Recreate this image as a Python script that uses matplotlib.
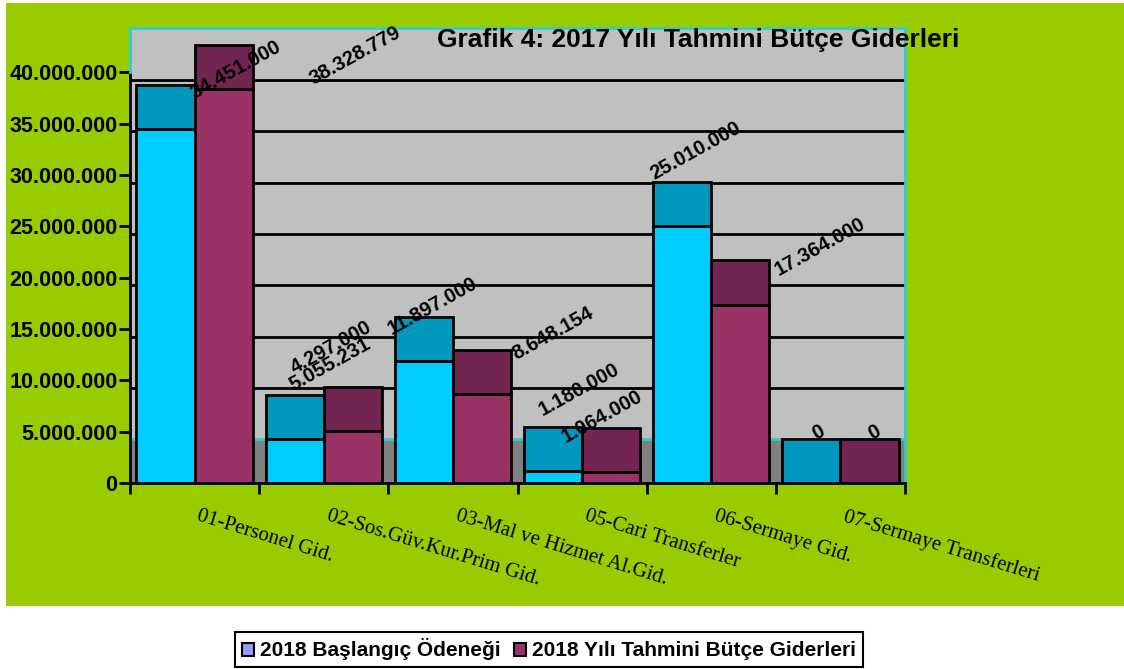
import matplotlib.pyplot as plt
from matplotlib.patches import Rectangle, Patch
import numpy as np

# chart data
categories = ["01-Personel Gid.", "02-Sos.Güv.Kur.Prim Gid.", "03-Mal ve Hizmet Al.Gid.",
              "05-Cari Transferler", "06-Sermaye Gid.", "07-Sermaye Transferleri"]
baslangic = [34451000, 4297000, 11897000, 1180000, 25010000, 0]
tahmini = [38328779, 5055231, 8648154, 1064000, 17364000, 0]
series_names = ["2018 Başlangıç Ödeneği", "2018 Yılı Tahmini Bütçe Giderleri"]
chart_title = "Grafik 4: 2017 Yılı Tahmini Bütçe Giderleri"
y_ticks = [0, 5000000, 10000000, 15000000, 20000000, 25000000, 30000000, 35000000, 40000000]

# fake 3D look of the old excel chart
DEPTH = 4.3e6        # height of the visible bar tops / floor
GRID_SHIFT = 0.75e6  # back wall gridlines sit a bit lower than the ticks
W = 0.45

# where excel dropped the rotated data labels (pixels from the bar top)
offs_b = [(70, 15), (37, 47), (9, 11), (26, 37), (13, 31), (7, 6)]
offs_t = [(131, -10), (-23, 22), (71, 17), (-9, 11), (80, 14), (5, 6)]

FRONT = ["#00CCFF", "#993366"]
TOP = ["#0098BC", "#722550"]
LEGEND_COLORS = ["#9999FF", "#993366"]
CYAN = "#33CCCC"


def fmt(v):
    return "{:,}".format(int(v)).replace(",", ".")


fig = plt.figure(figsize=(11.24, 6.69), dpi=100, facecolor="white")
fig.patches.append(Rectangle((6 / 1124, 1 - 606 / 669), 1 - 6 / 1124, 603 / 669,
                             transform=fig.transFigure, facecolor="#99CC00",
                             edgecolor="none", zorder=-10))

ax = fig.add_axes([130 / 1124, 1 - 483 / 669, 775 / 1124, 455 / 669])
ax.set_facecolor("#C0C0C0")
ymax = 44.3e6
ax.set_xlim(0, len(categories))
ax.set_ylim(0, ymax)

# floor and back wall grid
ax.axhspan(0, DEPTH, color="#808080", zorder=1)
ax.axhline(DEPTH, color=CYAN, lw=2, zorder=1.5)
ax.hlines([t - GRID_SHIFT for t in y_ticks if t >= 10000000], 0, len(categories),
          color="black", lw=2, zorder=2)

x = np.arange(len(categories)) + 0.5
for i, vals in enumerate([baslangic, tahmini]):
    left = x - W if i == 0 else x
    ax.bar(left, vals, width=W, align="edge", color=FRONT[i],
           edgecolor="black", lw=2, zorder=3)
    ax.bar(left, [DEPTH] * len(vals), width=W, bottom=vals, align="edge",
           color=TOP[i], edgecolor="black", lw=2, zorder=3)
    offs = offs_b if i == 0 else offs_t
    for j, v in enumerate(vals):
        ax.annotate(fmt(v), xy=(left[j] + W / 2, v + DEPTH), xytext=offs[j],
                    textcoords="offset pixels", rotation=29, rotation_mode="anchor",
                    ha="center", va="center", fontsize=14.5, fontweight="bold",
                    family="Liberation Sans", zorder=5, annotation_clip=False)

# axes frame
for s in ["top", "right"]:
    ax.spines[s].set_color(CYAN)
    ax.spines[s].set_linewidth(2)
ax.spines["left"].set_linewidth(2)
ax.spines["left"].set_bounds(0, y_ticks[-1])
ax.spines["bottom"].set_linewidth(2)
ax.plot([0, 0], [y_ticks[-1], ymax], color=CYAN, lw=2, clip_on=False, zorder=4)

ax.set_yticks(y_ticks)
ax.set_yticklabels([fmt(t) for t in y_ticks], fontsize=15.5, fontweight="bold",
                   family="Liberation Sans")
ax.tick_params(axis="y", direction="out", length=8, width=2, pad=1)
ax.set_xticks(np.arange(len(categories) + 1))
ax.set_xticklabels([])
ax.tick_params(axis="x", direction="out", length=8, width=2)

for j, c in enumerate(categories):
    ax.annotate(c, xy=(x[j], 0), xytext=(6, -24), textcoords="offset pixels",
                rotation=-17, rotation_mode="anchor", ha="left", va="top",
                fontsize=15, family="Liberation Serif", annotation_clip=False)

fig.text(437 / 1124, 1 - 28 / 669, chart_title, ha="left", va="top",
         fontsize=19, fontweight="bold", family="Liberation Sans", zorder=6)

handles = [Patch(facecolor=c, edgecolor="black", lw=1.5) for c in LEGEND_COLORS]
leg = fig.legend(handles, series_names, loc="center", bbox_to_anchor=(549 / 1124, 19.5 / 669),
                 ncol=2, frameon=True, fancybox=False, edgecolor="black", framealpha=1,
                 prop={"family": "Liberation Sans", "weight": "bold", "size": 15},
                 handlelength=0.6, handleheight=0.6, handletextpad=0.3,
                 columnspacing=0.6, borderpad=0.3)
leg.get_frame().set_linewidth(1.5)

fig.savefig("out.png", dpi=100, facecolor="white")
